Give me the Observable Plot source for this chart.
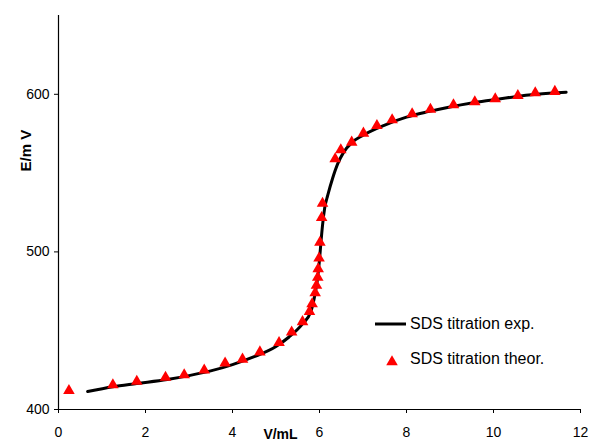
<!DOCTYPE html>
<html>
<head>
<meta charset="utf-8">
<script src="https://cdn.jsdelivr.net/npm/d3@7"></script>
<script src="https://cdn.jsdelivr.net/npm/@observablehq/plot@0.6"></script>
<style>
  html, body { margin: 0; padding: 0; background: #fff; overflow: hidden; }
  #wrap { position: relative; width: 589px; height: 443px; }
  #legend { position: absolute; left: 0; top: 0; pointer-events: none; }
</style>
</head>
<body>
<div id="wrap"></div>
<script>
// Experimental titration curve (line)
const expX = [0.67,1.25,1.8,2.5,3.0,3.5,4.0,4.5,5.0,5.3,5.6,5.8,5.88,5.95,6.0,6.03,6.07,6.12,6.19,6.3,6.42,6.55,6.75,7.0,7.5,8.0,8.5,9.0,9.5,10.0,10.5,11.0,11.67];
const expY = [411.4,414.5,416.5,419,421.5,424.5,428.5,433.5,440,446,454,462,470.8,482,495,505,517,528,536,546.6,556,563,569.5,574,580.5,585.5,589,592,594.5,596.5,598.5,600,601.3];

// Theoretical titration points (triangles)
const theorX = [0.24,1.25,1.80,2.46,2.89,3.35,3.83,4.23,4.63,5.07,5.36,5.61,5.77,5.83,5.90,5.93,5.96,5.97,5.99,6.01,6.05,6.07,6.36,6.49,6.74,7.01,7.32,7.67,8.13,8.55,9.08,9.57,10.04,10.56,10.96,11.41];
const theorY = [411,414.7,416.8,419.4,421,424,428.4,430.9,435.5,441.5,448.1,454.7,461.2,466,473,477.8,482.8,488.3,495,505,520.7,529.8,558,563.8,568.6,574.3,579.2,582.8,586.6,589.4,592.3,594.2,596.1,598.2,599.9,600.8];

const xTicks = [0,2,4,6,8,10,12];
const yTicks = [400,500,600];
const xDomain = [0, 12];
const yDomain = [400, 650];
const xLabel = "V/mL";
const yLabel = "E/m V";
const seriesNames = ["SDS titration exp.", "SDS titration theor."];

const expData = expX.map((x, i) => ({x, y: expY[i]}));
const theorData = theorX.map((x, i) => ({x, y: theorY[i]}));

const font = "'Liberation Sans', Arial, sans-serif";

const chart = Plot.plot({
  width: 589,
  height: 443,
  marginLeft: 58,
  marginRight: 9,
  marginTop: 15,
  marginBottom: 34,
  style: {fontFamily: font, fontSize: "14px", color: "#000", background: "#fff"},
  x: {domain: xDomain},
  y: {domain: yDomain},
  marks: [
    Plot.axisX({ticks: xTicks, tickSize: 4, tickPadding: 14, label: null, fontSize: 14}),
    Plot.axisY({ticks: yTicks, tickSize: 4, tickPadding: 5, label: null, fontSize: 14}),
    Plot.ruleX([xDomain[0]], {stroke: "#000", strokeWidth: 1.2}),
    Plot.ruleY([yDomain[0]], {stroke: "#000", strokeWidth: 1.2}),
    Plot.line(expData, {x: "x", y: "y", stroke: "#000", strokeWidth: 3, curve: "monotone-x"}),
    Plot.dot(theorData, {x: "x", y: "y", symbol: "triangle", fill: "#ff0000", stroke: "none", r: 4.3, dy: -1.5}),
    Plot.text([xLabel], {frameAnchor: "bottom", dx: -39, dy: 20, lineAnchor: "top", fontWeight: "bold", fontSize: 14, fill: "#000"}),
    Plot.text([yLabel], {frameAnchor: "left", rotate: -90, dx: -32, dy: -41, fontWeight: "bold", fontSize: 15, fill: "#000"})
  ]
});

const wrap = document.getElementById("wrap");
wrap.appendChild(chart);

// Legend overlay
const leg = d3.select(wrap).append("svg")
  .attr("id", "legend")
  .attr("width", 589).attr("height", 443)
  .style("font-family", font);

leg.append("line").attr("x1", 375).attr("x2", 406).attr("y1", 324).attr("y2", 324)
  .attr("stroke", "#000").attr("stroke-width", 3);
leg.append("text").attr("x", 410).attr("y", 323).attr("dy", "0.35em")
  .attr("font-size", 16).text(seriesNames[0]);
leg.append("path").attr("d", d3.symbol(d3.symbolTriangle, 4.3 * 4.3 * Math.PI)())
  .attr("transform", "translate(392,362)").attr("fill", "#ff0000");
leg.append("text").attr("x", 410).attr("y", 358).attr("dy", "0.35em")
  .attr("font-size", 16).text(seriesNames[1]);
</script>
</body>
</html>
